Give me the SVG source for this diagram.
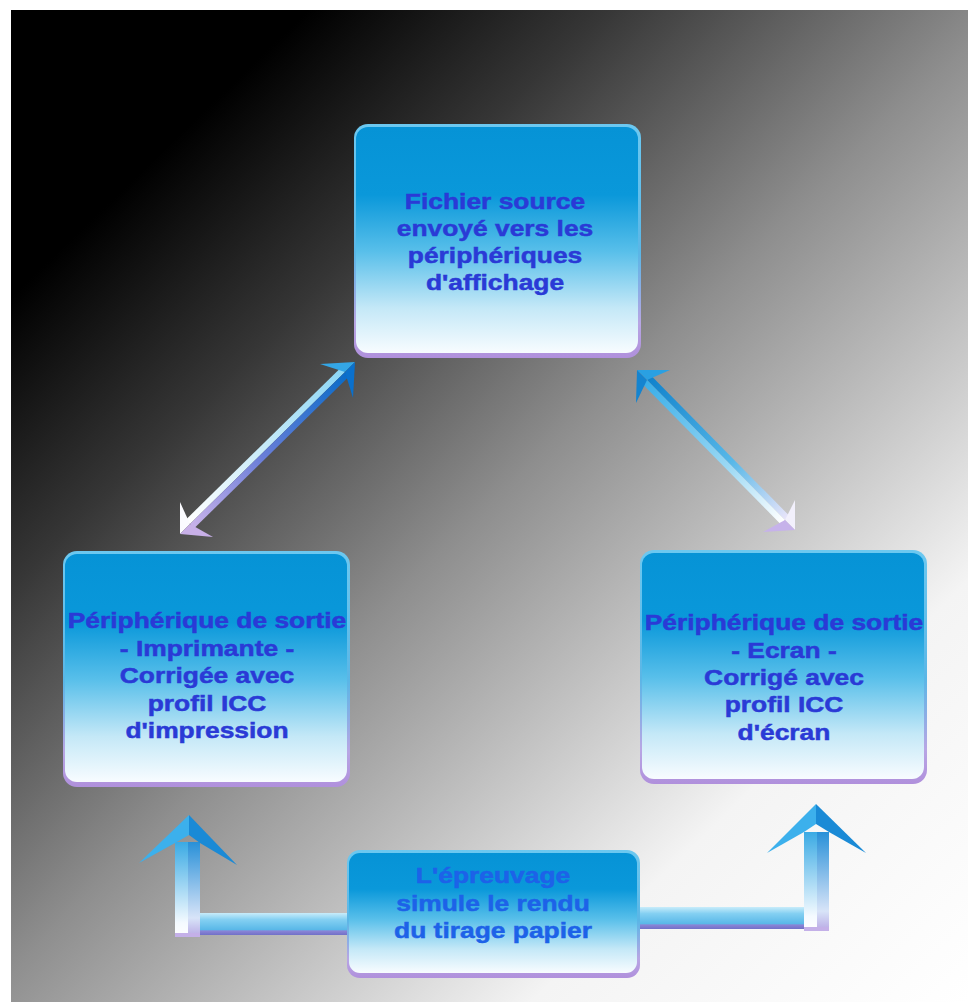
<svg xmlns="http://www.w3.org/2000/svg" width="968" height="1002" viewBox="0 0 968 1002">
  <style>
    .t { font-family: "Liberation Sans", Arial, sans-serif; font-weight: bold; font-size: 22px; fill: #2a3ad6; stroke: #2a3ad6; stroke-width: 0.5px; text-anchor: middle; }
    .tb { fill: #1d62e8; stroke: #1d62e8; }
  </style>
  <defs>
    <linearGradient id="bg" gradientUnits="userSpaceOnUse" x1="11" y1="10" x2="968" y2="1002">
      <stop offset="0" stop-color="#000"/>
      <stop offset="0.15" stop-color="#000"/>
      <stop offset="0.3" stop-color="#363636"/>
      <stop offset="0.5" stop-color="#8e8e8e"/>
      <stop offset="0.78" stop-color="#f4f4f4"/>
      <stop offset="1" stop-color="#fff"/>
    </linearGradient>
    <linearGradient id="edgeG" x1="0" y1="0" x2="0" y2="1">
      <stop offset="0" stop-color="#6cc8f0"/>
      <stop offset="0.55" stop-color="#5ab6e6"/>
      <stop offset="0.85" stop-color="#b8a6e4"/>
      <stop offset="1" stop-color="#b090dc"/>
    </linearGradient>
    <linearGradient id="faceG" x1="0" y1="0" x2="0" y2="1">
      <stop offset="0" stop-color="#0693d6"/>
      <stop offset="0.3" stop-color="#0a98da"/>
      <stop offset="0.55" stop-color="#58bfea"/>
      <stop offset="0.8" stop-color="#c4e8f7"/>
      <stop offset="1" stop-color="#f8fcff"/>
    </linearGradient>
    <linearGradient id="hbar" x1="0" y1="0" x2="0" y2="1">
      <stop offset="0" stop-color="#c8ecfa"/>
      <stop offset="0.3" stop-color="#84d0f2"/>
      <stop offset="0.75" stop-color="#5ab8e8"/>
      <stop offset="0.82" stop-color="#8a84d6"/>
      <stop offset="1" stop-color="#7070c8"/>
    </linearGradient>
    <linearGradient id="vshL" x1="0" y1="0" x2="0" y2="1">
      <stop offset="0" stop-color="#3aaae4"/>
      <stop offset="0.85" stop-color="#f4faff"/>
      <stop offset="1" stop-color="#ffffff"/>
    </linearGradient>
    <linearGradient id="vshR" x1="0" y1="0" x2="0" y2="1">
      <stop offset="0" stop-color="#2890d8"/>
      <stop offset="0.8" stop-color="#d8e4f8"/>
      <stop offset="1" stop-color="#b8a8e4"/>
    </linearGradient>
    <linearGradient id="d1a" gradientUnits="userSpaceOnUse" x1="190" y1="524" x2="345" y2="372">
      <stop offset="0" stop-color="#ffffff"/>
      <stop offset="1" stop-color="#8cd6f4"/>
    </linearGradient>
    <linearGradient id="d1b" gradientUnits="userSpaceOnUse" x1="190" y1="524" x2="345" y2="372">
      <stop offset="0" stop-color="#c8b2ea"/>
      <stop offset="0.45" stop-color="#6a7ed8"/>
      <stop offset="1" stop-color="#0a6cc8"/>
    </linearGradient>
    <linearGradient id="d2a" gradientUnits="userSpaceOnUse" x1="647" y1="380" x2="785" y2="520">
      <stop offset="0" stop-color="#1082cc"/>
      <stop offset="0.6" stop-color="#58b8e8"/>
      <stop offset="1" stop-color="#e8e4fa"/>
    </linearGradient>
    <linearGradient id="d2b" gradientUnits="userSpaceOnUse" x1="647" y1="380" x2="785" y2="520">
      <stop offset="0" stop-color="#3aaee8"/>
      <stop offset="0.6" stop-color="#9ad8f4"/>
      <stop offset="1" stop-color="#ffffff"/>
    </linearGradient>
  </defs>

  <rect x="0" y="0" width="968" height="1002" fill="#fff"/>
  <rect x="11" y="10" width="957" height="992" fill="url(#bg)"/>

  <g id="connectors">
    <g id="arrow-left-diag">
      <polygon points="190,524 345,372 340.8,367.7 185.8,519.7" fill="url(#d1a)"/>
      <polygon points="190,524 345,372 349.2,376.3 194.2,528.3" fill="url(#d1b)"/>
      <polygon points="355,362 320,364 345,372" fill="#34a6e6"/>
      <polygon points="355,362 345,372 353,398" fill="#0a70cc"/>
      <polygon points="180,534 180,502 190,524" fill="#fbfbff"/>
      <polygon points="180,534 190,524 213,537" fill="#c8b0e8"/>
    </g>
    <g id="arrow-right-diag">
      <polygon points="647,380 785,520 789.3,515.8 651.3,375.8" fill="url(#d2a)"/>
      <polygon points="647,380 785,520 780.7,524.2 642.7,384.2" fill="url(#d2b)"/>
      <polygon points="637,370 670,370 647,380" fill="#2aa0e2"/>
      <polygon points="637,370 647,380 636,403" fill="#1484d0"/>
      <polygon points="795,530 795,500 785,520" fill="#f2f0fc"/>
      <polygon points="795,530 785,520 763,532" fill="#c6b2ea"/>
    </g>
    <g id="arrow-bottom-left">
      <rect x="198" y="913" width="150" height="22" fill="url(#hbar)"/>
      <rect x="175" y="842" width="13" height="95" fill="url(#vshL)"/>
      <rect x="188" y="842" width="12" height="95" fill="url(#vshR)"/>
      <rect x="175" y="933" width="25" height="4" fill="#c4b0e8"/>
      <polygon points="189,815 139,863 175,843 189,835" fill="#3cb0ec"/>
      <polygon points="189,815 189,835 200,843 237,865" fill="#1a8ad6"/>
    </g>
    <g id="arrow-bottom-right">
      <rect x="638" y="907" width="168" height="22" fill="url(#hbar)"/>
      <rect x="804" y="832" width="13" height="99" fill="url(#vshL)"/>
      <rect x="817" y="832" width="12" height="99" fill="url(#vshR)"/>
      <rect x="804" y="927" width="25" height="4" fill="#c4b0e8"/>
      <polygon points="816,804 767,853 804,832 816,824" fill="#3cb0ec"/>
      <polygon points="816,804 816,824 829,832 866,853" fill="#1a8ad6"/>
    </g>
  </g>

  <g id="node-source">
    <rect x="354" y="124" width="287" height="234" rx="14" fill="url(#edgeG)"/>
    <rect x="356" y="127" width="282" height="226" rx="12" fill="url(#faceG)"/>
    <g transform="matrix(1.2 0 0 1 495 0)">
      <text class="t" x="0" y="209">Fichier source</text>
      <text class="t" x="0" y="236">envoyé vers les</text>
      <text class="t" x="0" y="263">périphériques</text>
      <text class="t" x="0" y="290">d'affichage</text>
    </g>
  </g>

  <g id="node-printer">
    <rect x="63" y="551" width="287" height="236" rx="14" fill="url(#edgeG)"/>
    <rect x="65" y="554" width="282" height="228" rx="12" fill="url(#faceG)"/>
    <g transform="matrix(1.2 0 0 1 207 0)">
      <text class="t" x="0" y="628">Périphérique de sortie</text>
      <text class="t" x="0" y="656">- Imprimante -</text>
      <text class="t" x="0" y="683">Corrigée avec</text>
      <text class="t" x="0" y="711">profil ICC</text>
      <text class="t" x="0" y="738">d'impression</text>
    </g>
  </g>

  <g id="node-screen">
    <rect x="640" y="550" width="287" height="234" rx="14" fill="url(#edgeG)"/>
    <rect x="642" y="553" width="282" height="226" rx="12" fill="url(#faceG)"/>
    <g transform="matrix(1.2 0 0 1 784 0)">
      <text class="t" x="0" y="630">Périphérique de sortie</text>
      <text class="t" x="0" y="658">- Ecran -</text>
      <text class="t" x="0" y="685">Corrigé avec</text>
      <text class="t" x="0" y="712">profil ICC</text>
      <text class="t" x="0" y="740">d'écran</text>
    </g>
  </g>

  <g id="node-proof">
    <rect x="347" y="850" width="293" height="128" rx="13" fill="url(#edgeG)"/>
    <rect x="349" y="853" width="288" height="120" rx="11" fill="url(#faceG)"/>
    <g transform="matrix(1.2 0 0 1 493 0)">
      <text class="t tb" x="0" y="883">L'épreuvage</text>
      <text class="t tb" x="0" y="911">simule le rendu</text>
      <text class="t tb" x="0" y="938">du tirage papier</text>
    </g>
  </g>
</svg>
